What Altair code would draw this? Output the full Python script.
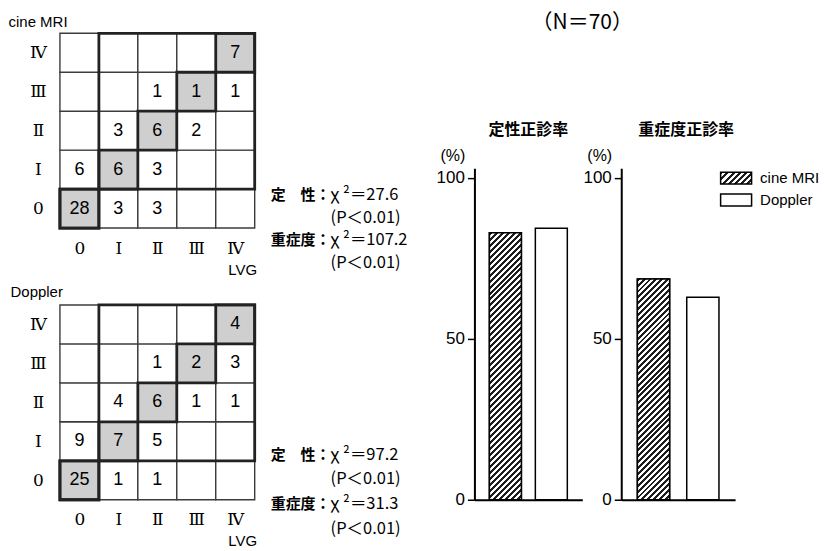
import json
import math
import altair as alt
import pandas as pd

# ---------------- data ----------------
grades = ["0", "Ⅰ", "Ⅱ", "Ⅲ", "Ⅳ"]
# rows: grade by the modality (0..Ⅳ, bottom to top); columns: LVG grade (0..Ⅳ); 0 = empty cell
cine_mri_counts = [
    [28, 3, 3, 0, 0],
    [6, 6, 3, 0, 0],
    [0, 3, 6, 2, 0],
    [0, 0, 1, 1, 1],
    [0, 0, 0, 0, 7],
]
doppler_counts = [
    [25, 1, 1, 0, 0],
    [9, 7, 5, 0, 0],
    [0, 4, 6, 1, 1],
    [0, 0, 1, 2, 3],
    [0, 0, 0, 0, 4],
]
stats_labels = ["定　性：", "重症度："]
cine_stats_values = ["χ ²＝27.6", "(P＜0.01)", "χ ²＝107.2", "(P＜0.01)"]
doppler_stats_values = ["χ ²＝97.2", "(P＜0.01)", "χ ²＝31.3", "(P＜0.01)"]

modalities = ["cine MRI", "Doppler"]
qualitative_rate = [82.9, 84.3]   # 定性正診率 (%)
severity_rate = [68.6, 62.9]      # 重症度正診率 (%)

title_text = "（N＝70）"
bar_titles = ["定性正診率", "重症度正診率"]

# ---------------- styling helpers ----------------
JP = "Noto Sans CJK JP"
SANS = "Liberation Sans, Arial, sans-serif"
NARROW = "Liberation Sans Narrow, Liberation Sans, sans-serif"
ROMAN = "DejaVu Serif, Noto Sans CJK JP, serif"

CELL = 39
BAR_H = 332
Y_MAX = 103


def hatch(w, h, period=4.2, duty=0.5, dark="#1e1e1e", light="#ffffff"):
    """Linear gradient that draws '////' hatching inside a w x h box."""
    k = (w + h) * w * h / (w * w + h * h)
    n = max(1, round((w + h) / (math.sqrt(2) * period)))
    stops = []
    for i in range(n):
        a = round(i / n, 5)
        b = round((i + duty) / n, 5)
        e = round((i + 1) / n, 5)
        stops += [
            {"offset": a, "color": dark},
            {"offset": b, "color": dark},
            {"offset": b, "color": light},
            {"offset": e, "color": light},
        ]
    return {"gradient": "linear", "x1": 0, "y1": 0,
            "x2": round(k / h, 5), "y2": round(k / w, 5), "stops": stops}


def matrix_chart(counts, name, stats_values, title_x, title_y, stats_y, line_h, spacer):
    n = len(grades)
    recs = []
    for r, row in enumerate(counts):
        for c, v in enumerate(row):
            recs.append(dict(c=c, c2=c + 1, r=r, r2=r + 1, cx=c + 0.5, cy=r + 0.5,
                             label=str(v) if v else "", diag=(r == c)))
    df = pd.DataFrame(recs)
    # qualitative-agreement regions: grade 0 vs grades Ⅰ–Ⅳ
    regions = pd.DataFrame([
        dict(c=0, c2=1, r=0, r2=1),
        dict(c=1, c2=n, r=1, r2=n),
    ])
    label_expr = json.dumps(grades, ensure_ascii=False) + "[floor(datum.value)]"
    xs = alt.Scale(domain=[0, n], nice=False, zero=False)
    ys = alt.Scale(domain=[0, n], nice=False, zero=False)
    xaxis = alt.Axis(values=[i + 0.5 for i in range(n)], labelExpr=label_expr,
                     domain=False, ticks=False, grid=False,
                     labelFont=ROMAN, labelFontSize=17, labelColor="black",
                     labelBaseline="middle", labelPadding=20,
                     title="LVG", titleFont=SANS, titleFontSize=15,
                     titleFontWeight="normal", titleColor="black",
                     titleX=CELL * n + 2, titleY=41, titleAlign="right",
                     titleBaseline="middle", titleAngle=0)
    yaxis = alt.Axis(values=[i + 0.5 for i in range(n)], labelExpr=label_expr,
                     domain=False, ticks=False, grid=False,
                     labelFont=ROMAN, labelFontSize=17, labelColor="black",
                     labelAlign="center", labelBaseline="middle", labelPadding=22,
                     title=name, titleFont=SANS, titleFontSize=15,
                     titleFontWeight="normal", titleColor="black",
                     titleX=title_x, titleY=title_y, titleAlign="left",
                     titleBaseline="middle", titleAngle=0)
    base = alt.Chart(df)
    cells = base.mark_rect(stroke="#3c3c3c", strokeWidth=1.4).encode(
        x=alt.X("c:Q", scale=xs, axis=xaxis),
        x2="c2:Q",
        y=alt.Y("r:Q", scale=ys, axis=yaxis),
        y2="r2:Q",
        fill=alt.condition("datum.diag", alt.value("#cfcfcf"), alt.value("white")),
    )
    region_lines = alt.Chart(regions).mark_rect(
        fillOpacity=0, stroke="#222222", strokeWidth=2.8
    ).encode(x="c:Q", x2="c2:Q", y="r:Q", y2="r2:Q")
    diag_lines = base.transform_filter("datum.diag").mark_rect(
        fillOpacity=0, stroke="#222222", strokeWidth=2.8
    ).encode(x="c:Q", x2="c2:Q", y="r:Q", y2="r2:Q")
    numbers = base.mark_text(font=SANS, fontSize=18, color="black").encode(
        x="cx:Q", y="cy:Q", text="label:N"
    )
    one = pd.DataFrame({"k": [0]})
    stat_lab = alt.Chart(one).mark_text(
        text=stats_labels, font=JP, fontSize=15, fontWeight="bold", align="left",
        baseline="middle", lineHeight=2 * line_h, color="black"
    ).encode(x=alt.value(CELL * n + 16), y=alt.value(stats_y))
    stat_val = alt.Chart(one).mark_text(
        text=stats_values, font=JP, fontSize=16.5, align="left",
        baseline="middle", lineHeight=line_h, color="black"
    ).encode(x=alt.value(CELL * n + 76), y=alt.value(stats_y))
    props = dict(width=CELL * n, height=CELL * n)
    if spacer:
        props["title"] = alt.TitleParams("　", fontSize=spacer, offset=0)
    return alt.layer(cells, region_lines, diag_lines, numbers, stat_lab, stat_val).properties(**props)


def bar_chart(rates, title, width, p_inner, p_outer, title_dx, with_legend):
    df = pd.DataFrame({"modality": modalities, "rate": rates})
    xs = alt.Scale(domain=modalities, paddingInner=p_inner, paddingOuter=p_outer)
    ys = alt.Scale(domain=[0, Y_MAX], nice=False)
    xaxis = alt.Axis(labels=False, ticks=False, title=None, grid=False,
                     domainColor="black", domainWidth=2)
    yaxis = alt.Axis(values=[0, 50, 100], grid=False, domainColor="black", domainWidth=2,
                     tickColor="black", tickWidth=1.5, tickSize=7,
                     labelFont=NARROW, labelFontSize=17, labelColor="black", labelPadding=3,
                     title="(%)", titleFont=SANS, titleFontSize=16, titleFontWeight="normal",
                     titleColor="black", titleAngle=0, titleAlign="center",
                     titleBaseline="middle", titleX=-22, titleY=-13)
    bw = width / (len(modalities) - p_inner + 2 * p_outer) * (1 - p_inner)
    cine_h = rates[0] * BAR_H / Y_MAX
    base = alt.Chart(df)
    if with_legend:
        legend_grad = json.dumps(hatch(31, 12))
        legend = alt.Legend(
            title=None, orient="none", legendX=104, legendY=-1,
            symbolType="M-1.55,-0.6H1.55V0.6H-1.55Z", symbolSize=400,
            symbolStrokeColor="black", symbolStrokeWidth=1.5,
            labelFont=SANS, labelFontSize=15, labelColor="black", labelOffset=13,
            rowPadding=2,
        )
        fill = alt.Fill("modality:N",
                        scale=alt.Scale(domain=modalities,
                                        range=[{"expr": legend_grad}, "white"]),
                        legend=legend)
    else:
        fill = alt.value("white")
    bars = base.mark_bar(stroke="black", strokeWidth=1.5).encode(
        x=alt.X("modality:N", sort=modalities, scale=xs, axis=xaxis),
        y=alt.Y("rate:Q", scale=ys, axis=yaxis),
        fill=fill,
    )
    hatched = base.transform_filter(alt.datum.modality == modalities[0]).mark_bar(
        stroke="black", strokeWidth=1.5, fill=hatch(bw, cine_h)
    ).encode(
        x=alt.X("modality:N", sort=modalities, scale=xs),
        y=alt.Y("rate:Q", scale=ys),
    )
    return alt.layer(bars, hatched).properties(
        width=width, height=BAR_H,
        title=alt.TitleParams(title, font=JP, fontSize=16, fontWeight="bold",
                              color="black", offset=9, dx=title_dx),
    )


m1 = matrix_chart(cine_mri_counts, "cine MRI", cine_stats_values, -52, -12, 162, 22.7, 6)
m2 = matrix_chart(doppler_counts, "Doppler", doppler_stats_values, -50, -13, 150, 24.7, 0)
left = alt.vconcat(m1, m2, spacing=8)

title_chart = alt.Chart(pd.DataFrame({"k": [0]})).mark_text(
    text=title_text, font=JP, fontSize=21, color="black", align="center", baseline="middle"
).encode(x=alt.value(108), y=alt.value(-10)).properties(width=250, height=24)

b1 = bar_chart(qualitative_rate, bar_titles[0], 108, 0.304, 0.326, 0, False)
b2 = bar_chart(severity_rate, bar_titles[1], 114, 0.347, 0.327, 8, True)
bars_row = alt.hconcat(b1, b2, spacing=0).resolve_scale(fill="independent").resolve_legend(
    fill="independent")
right = alt.vconcat(title_chart, bars_row, spacing=65).resolve_scale(fill="independent")

chart = alt.hconcat(left, right, spacing=27, padding=0).resolve_scale(
    fill="independent").configure_view(stroke=None)

chart.save("out.html", embed_options={"renderer": "svg", "actions": False})
